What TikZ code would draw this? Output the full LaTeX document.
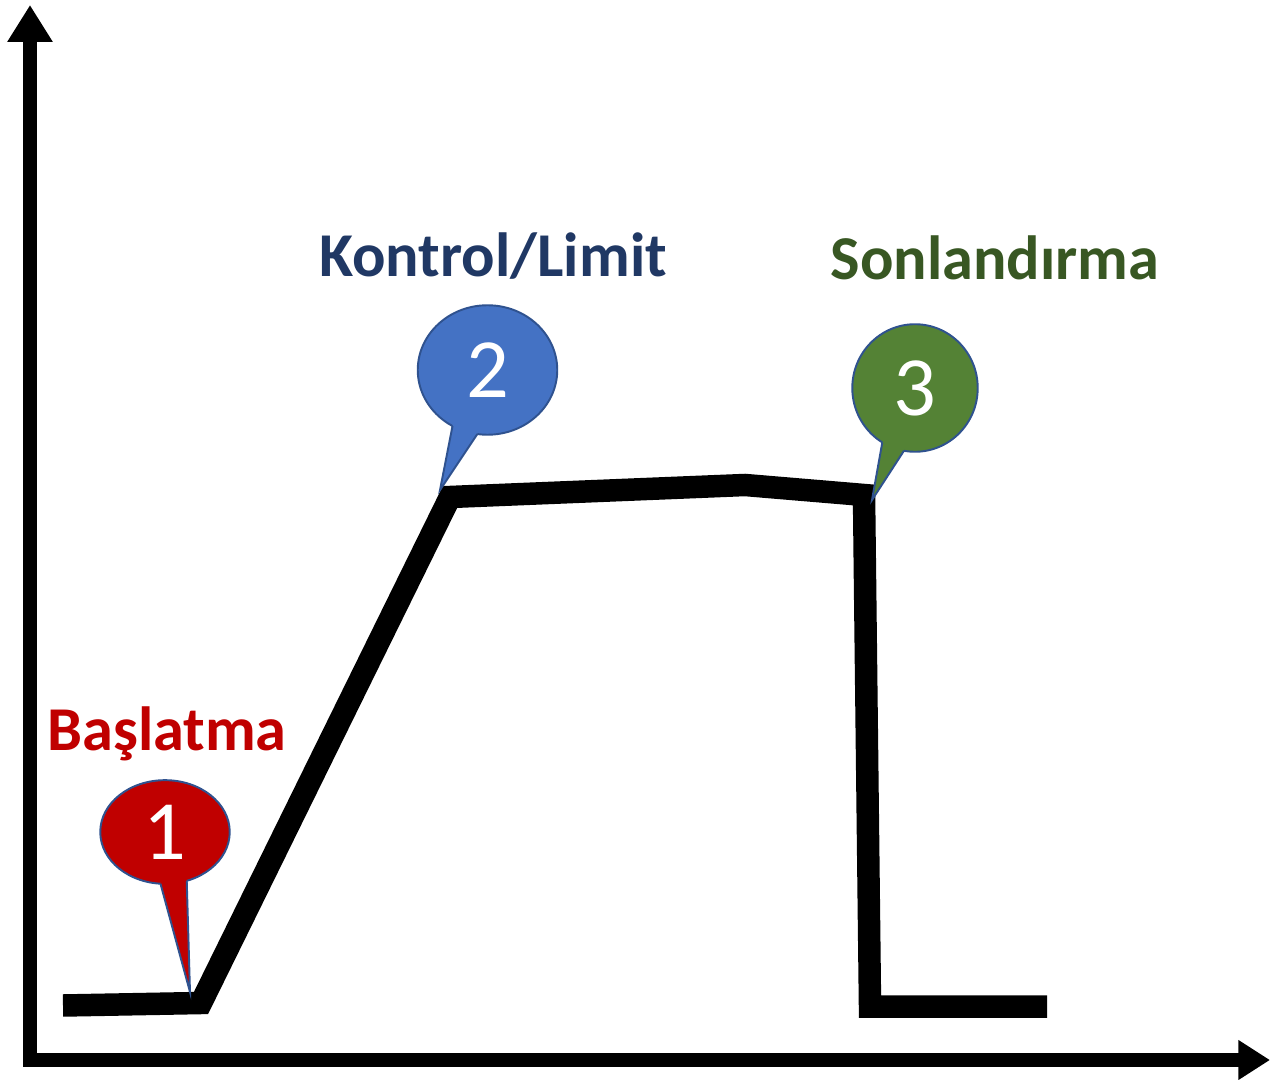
\documentclass[tikz,border=0pt]{standalone}
\usepackage{fontspec}
\setmainfont{Carlito}
\usetikzlibrary{arrows.meta,shapes.geometric}
\definecolor{cred}{HTML}{C00000}
\definecolor{cblue}{HTML}{4472C4}
\definecolor{cgreen}{HTML}{548235}
\definecolor{cborder}{HTML}{2F528F}
\definecolor{tblue}{HTML}{203864}
\definecolor{tgreen}{HTML}{385723}
\begin{document}
\begin{tikzpicture}[x=0.02cm,y=0.02cm,
  balloon/.style={ellipse, draw=cborder, line width=1.1pt, inner sep=0pt, outer sep=0pt},
  tailside/.style={draw=cborder, line width=1.1pt, line join=miter},
  digit/.style={text=white, font=\fontsize{48}{50}\selectfont, inner sep=0pt},
  title/.style={font=\bfseries\fontsize{35.5}{40}\selectfont, anchor=base, inner sep=0pt},
  curve/.style={line width=12.8pt, line join=miter},
  axis/.style={line width=8.5pt, line join=miter}]
\useasboundingbox (0,0) rectangle (1270,1079);
% axes
\coordinate (ytop) at (30,1074);
\coordinate (O) at (30,19);
\coordinate (xend) at (1270,19);
\draw[axis, {Triangle[length=21pt,width=24.4pt]}-{Triangle[length=18pt,width=21.5pt]}] (ytop) -- (O) -- (xend);
% curve
\coordinate (p1) at (63,73.5);
\coordinate (p2) at (201,76);
\coordinate (p3) at (450,582);
\coordinate (p4) at (745,594);
\coordinate (p5) at (864,584);
\coordinate (p6) at (870,72.5);
\coordinate (p7) at (1047,72.5);
\draw[curve] (p1) -- (p2) -- (p3) -- (p4) -- (p5) -- (p6) -- (p7);
% titles
\node[title, text=cred] (lab1) at (167,329) {Başlatma};
\node[title, text=tblue] (lab2) at (493,802) {Kontrol/Limit};
\node[title, text=tgreen] (lab3) at (995,799) {Sonlandırma};
% balloon 1
\node[balloon, fill=cred, minimum width=73.7pt, minimum height=59pt] (b1) at (165,247) {};
\coordinate (t1) at (190,87);
\fill[cred] (b1.-95.7) -- (t1) -- (b1.-66.4) -- (b1.center) -- cycle;
\draw[tailside] (b1.-95.7) -- (t1) -- (b1.-66.4);
\node[digit] (d1) at (b1) {1};
% balloon 2
\node[balloon, fill=cblue, minimum width=79.4pt, minimum height=73.7pt] (b2) at (487.5,709) {};
\coordinate (t2) at (440,589);
\fill[cblue] (b2.-122.8) -- (t2) -- (b2.-99.5) -- (b2.center) -- cycle;
\draw[tailside] (b2.-122.8) -- (t2) -- (b2.-99.5);
\node[digit] (d2) at (b2) {2};
% balloon 3
\node[balloon, fill=cgreen, minimum width=71.4pt, minimum height=72.6pt] (b3) at (915,691) {};
\coordinate (t3) at (872,579);
\fill[cgreen] (b3.-121.4) -- (t3) -- (b3.-100.6) -- (b3.center) -- cycle;
\draw[tailside] (b3.-121.4) -- (t3) -- (b3.-100.6);
\node[digit] (d3) at (b3) {3};
\end{tikzpicture}
\end{document}
